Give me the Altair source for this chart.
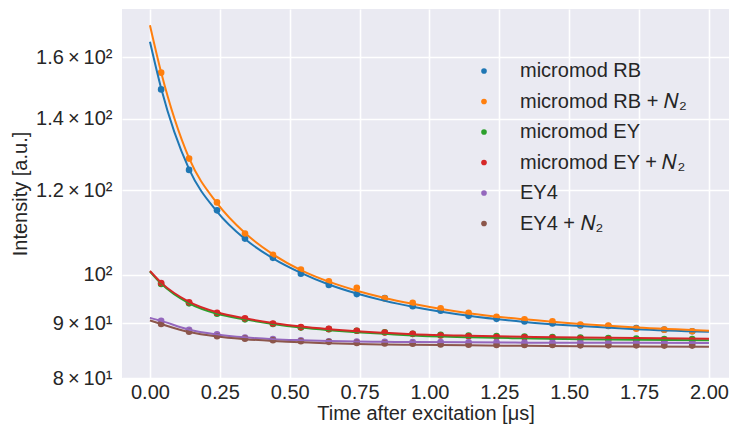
import altair as alt
import pandas as pd

# ---- data ----
series_names = [
    "micromod RB",
    "micromod RB + 𝑁₂",
    "micromod EY",
    "micromod EY + 𝑁₂",
    "EY4",
    "EY4 + 𝑁₂",
]
colors = ["#1f77b4", "#ff7f0e", "#2ca02c", "#d62728", "#9467bd", "#8c564b"]

# measured points
pts_x = [0.04, 0.14, 0.24, 0.34, 0.44, 0.54, 0.64, 0.74, 0.84, 0.94,
         1.04, 1.14, 1.24, 1.34, 1.44, 1.54, 1.64, 1.74, 1.84, 1.94]
rb_pts = [149.2, 125.4, 114.9, 108.1, 103.7, 100.2, 97.8, 95.9, 95.1, 93.4,
          92.5, 91.5, 90.9, 90.4, 90.0, 89.6, 89.5, 89.1, 88.8, 88.5]
rb_n2_pts = [154.7, 128.5, 116.9, 109.3, 104.4, 101.1, 98.6, 97.2, 95.0, 94.1,
             93.0, 92.1, 91.3, 90.8, 90.4, 89.8, 89.6, 89.0, 88.8, 88.5]
ey_pts = [98.0, 94.0, 91.9, 90.8, 89.9, 89.2, 88.9, 88.6, 88.3, 88.0,
          87.8, 87.7, 87.6, 87.5, 87.4, 87.3, 87.2, 87.1, 87.0, 87.0]
ey_n2_pts = [98.2, 94.2, 92.1, 91.0, 90.0, 89.3, 88.95, 88.6, 88.25, 88.0,
             87.7, 87.55, 87.4, 87.35, 87.25, 87.1, 87.0, 86.8, 86.75, 86.7]
ey4_pts = [90.5, 88.75, 87.9, 87.3, 87.0, 86.8, 86.6, 86.55, 86.5, 86.45,
           86.45, 86.4, 86.4, 86.35, 86.35, 86.3, 86.3, 86.3, 86.3, 86.3]
ey4_n2_pts = [89.9, 88.4, 87.55, 87.1, 86.8, 86.6, 86.5, 86.3, 86.2, 86.15,
              86.0, 85.95, 85.9, 85.9, 85.9, 85.85, 85.85, 85.85, 85.8, 85.8]

# fitted curves, read at these times
fit_x = [0.0, 0.04, 0.14, 0.24, 0.34, 0.44, 0.54, 0.64, 0.74, 0.84, 0.94,
         1.14, 1.34, 1.54, 1.74, 2.0]
rb_fit = [165.4, 149.6, 125.6, 114.6, 108.0, 103.6, 100.4, 97.9, 96.0, 94.5,
          93.3, 91.5, 90.3, 89.5, 88.9, 88.4]
rb_n2_fit = [171.4, 154.8, 128.6, 116.7, 109.4, 104.5, 101.0, 98.5, 96.6, 95.1,
             93.9, 92.0, 90.8, 89.9, 89.2, 88.6]
ey_fit = [100.7, 98.1, 94.0, 91.9, 90.8, 89.9, 89.2, 88.7, 88.3, 88.0,
          87.7, 87.35, 87.15, 87.0, 86.9, 86.8]
ey_n2_fit = [100.8, 98.3, 94.3, 92.2, 91.0, 90.1, 89.4, 88.9, 88.5, 88.2,
             87.95, 87.65, 87.45, 87.3, 87.2, 87.1]
ey4_fit = [91.1, 90.5, 88.8, 87.9, 87.35, 87.0, 86.8, 86.65, 86.55, 86.5,
           86.45, 86.4, 86.35, 86.33, 86.31, 86.3]
ey4_n2_fit = [90.6, 89.9, 88.35, 87.5, 87.0, 86.65, 86.4, 86.25, 86.1, 86.0,
              85.95, 85.85, 85.75, 85.7, 85.65, 85.6]

x_ticks = [0.0, 0.25, 0.5, 0.75, 1.0, 1.25, 1.5, 1.75, 2.0]
y_ticks = [80, 90, 100, 120, 140, 160]
y_tick_labels = ["8\u2009×\u200910¹", "9\u2009×\u200910¹", "10²",
                 "1.2\u2009×\u200910²", "1.4\u2009×\u200910²", "1.6\u2009×\u200910²"]

all_pts = [rb_pts, rb_n2_pts, ey_pts, ey_n2_pts, ey4_pts, ey4_n2_pts]
all_fit = [rb_fit, rb_n2_fit, ey_fit, ey_n2_fit, ey4_fit, ey4_n2_fit]

pts_rows, fit_rows = [], []
for i, name in enumerate(series_names):
    for x, y in zip(pts_x, all_pts[i]):
        pts_rows.append({"t": x, "v": y, "series": name, "order": i})
    for x, y in zip(fit_x, all_fit[i]):
        fit_rows.append({"t": x, "v": y, "series": name, "order": i})
pts_df = pd.DataFrame(pts_rows)
fit_df = pd.DataFrame(fit_rows)

label_map = "{" + ",".join(f"'{v}':'{l}'" for v, l in zip(y_ticks, y_tick_labels)) + "}"

FONT = "Liberation Sans"
TXT = "#262626"

x_enc = alt.X("t:Q",
              scale=alt.Scale(domain=[-0.1, 2.0717], nice=False, zero=False),
              axis=alt.Axis(values=x_ticks, format=".2f",
                            title="Time after excitation [μs]"))
y_enc = alt.Y("v:Q",
              scale=alt.Scale(type="log", domain=[80, 177.5], nice=False, zero=False),
              axis=alt.Axis(values=y_ticks,
                            labelExpr=label_map + "[datum.value]",
                            title="Intensity [a.u.]"))
color_enc = alt.Color("series:N",
                      scale=alt.Scale(domain=series_names, range=colors),
                      sort=series_names,
                      legend=alt.Legend(title=None, orient="none",
                                        legendX=352, legendY=52,
                                        symbolType="circle", symbolSize=32,
                                        symbolStrokeWidth=0,
                                        labelFont=FONT, labelFontSize=20,
                                        labelColor=TXT, labelOffset=26,
                                        labelLimit=0,
                                        rowPadding=10.5, padding=0))

points = alt.Chart(pts_df).mark_circle(size=44, opacity=1).encode(
    x=x_enc, y=y_enc, color=color_enc, order="order:Q")

lines = alt.Chart(fit_df).mark_line(strokeWidth=2, interpolate="monotone").encode(
    x=x_enc, y=y_enc,
    color=alt.Color("series:N", scale=alt.Scale(domain=series_names, range=colors),
                    legend=None),
    detail="series:N")

chart = alt.layer(points, lines).properties(
    width=607, height=369,
    autosize="none",
    padding={"left": 114, "top": 1, "right": 0, "bottom": 48},
    background="white",
).configure_view(
    fill="#eaeaf2", stroke=None
).configure_axis(
    grid=True, gridColor="white", gridWidth=1.6,
    domain=False, ticks=False,
    labelFont=FONT, labelFontSize=20, labelColor=TXT,
    titleFont=FONT, titleFontSize=20, titleColor=TXT, titleFontWeight="normal",
).configure_axisX(
    labelPadding=4, titlePadding=1
).configure_axisY(
    labelPadding=10, titlePadding=5
)

chart.save("out.html", embed_options={"renderer": "svg", "actions": False})
